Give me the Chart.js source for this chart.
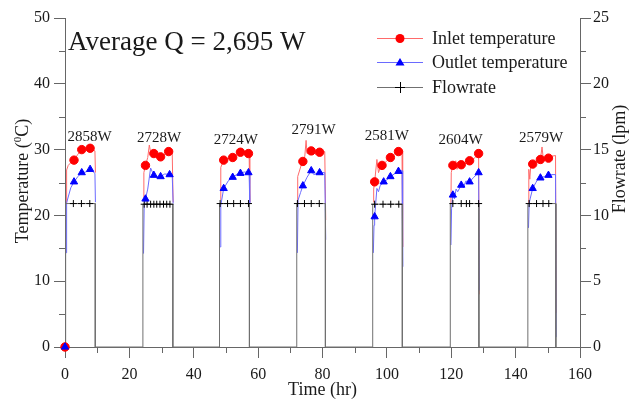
<!DOCTYPE html>
<html>
<head>
<meta charset="utf-8">
<script src="https://cdn.jsdelivr.net/npm/chart.js@4.4.0/dist/chart.umd.min.js"></script>
<style>
  html, body { margin: 0; padding: 0; background: #fff; }
  canvas { display: block; }
</style>
</head>
<body>
<canvas id="chart" width="634" height="401"></canvas>
<script>
const SERIF = "'Liberation Serif', 'Times New Roman', serif";
Chart.defaults.font.family = SERIF;

// Flow on/off times (hr) for the 7 test days and the flat flow level (lpm)
const flowOn = [0.2, 24.2, 48.0, 72.0, 95.6, 119.7, 143.8];
const flowOff = [9.4, 33.5, 57.3, 80.9, 104.8, 128.6, 152.5];
const flowLevel = [10.9, 10.85, 10.9, 10.9, 10.85, 10.9, 10.9];
const flowMarkTime = [
    [2.6, 5.1, 7.7],
    [24.6, 25.5, 26.6, 27.6, 28.5, 29.5, 30.6, 31.6, 32.6],
    [48.2, 50.5, 52.4, 54.5, 57.0],
    [72.2, 74.4, 76.5, 79.0],
    [96.2, 98.8, 101.2, 103.7],
    [120.5, 123.1, 124.7, 125.7, 128.5],
    [144.2, 146.5, 148.5, 150.3]
];

// Inlet temperature (°C), one polyline per day
const inletTime = [
    [0.4, 0.5, 1.0, 1.8, 2.8, 4.0, 5.2, 6.5, 7.8, 9.3, 9.45],
    [24.4, 24.5, 25.0, 25.7, 26.2, 26.6, 27.6, 28.6, 29.7, 31.0, 32.2, 33.3, 33.6],
    [48.2, 48.4, 49.3, 50.5, 52.1, 53.3, 54.5, 55.7, 57.0, 57.2, 57.4],
    [72.2, 72.3, 73.3, 73.9, 74.5, 74.9, 75.2, 76.5, 77.8, 79.1, 80.7, 81.0],
    [95.8, 95.9, 96.2, 96.9, 97.4, 97.9, 98.5, 99.8, 101.1, 102.3, 103.6, 104.7, 104.9],
    [119.9, 120.0, 120.5, 121.0, 121.4, 121.8, 122.3, 123.1, 124.0, 124.6, 125.7, 127.0, 128.5, 128.7],
    [144.0, 144.1, 144.4, 144.7, 145.3, 146.3, 147.7, 148.2, 148.6, 149.2, 150.2, 151.3, 152.4, 152.6]
];
const inletTemp = [
    [21.9, 26.9, 27.6, 28.0, 28.4, 29.3, 30.0, 30.0, 30.2, 29.8, 26.5],
    [22.8, 26.5, 27.6, 28.8, 30.7, 29.6, 29.4, 29.0, 28.9, 29.3, 29.7, 29.8, 22.0],
    [22.4, 27.3, 28.4, 28.6, 28.8, 29.3, 29.6, 29.7, 29.4, 29.5, 22.0],
    [21.9, 25.9, 27.5, 28.2, 29.0, 31.4, 29.4, 29.8, 29.3, 29.6, 29.7, 19.3],
    [22.0, 24.0, 25.1, 28.5, 26.5, 27.2, 27.6, 28.2, 28.8, 29.3, 29.7, 29.8, 15.2],
    [21.9, 26.5, 27.6, 27.2, 28.3, 27.0, 28.0, 27.7, 28.1, 27.8, 28.3, 28.6, 29.4, 8.0],
    [21.9, 27.0, 25.5, 27.5, 27.8, 28.1, 28.5, 30.4, 28.6, 28.8, 28.7, 29.0, 29.1, 5.2]
];
const inletMarkTime = [0, 2.8, 5.2, 7.8, 25.0, 27.6, 29.7, 32.2, 49.3, 52.1, 54.5, 57.0,
    73.9, 76.5, 79.1, 96.2, 98.5, 101.1, 103.6, 120.5, 123.1, 125.7, 128.5, 145.3, 147.7, 150.2];
const inletMarkTemp = [0, 28.4, 30.0, 30.2, 27.6, 29.4, 28.9, 29.7, 28.4, 28.8, 29.6, 29.4,
    28.2, 29.8, 29.6, 25.1, 27.6, 28.8, 29.7, 27.6, 27.7, 28.3, 29.4, 27.8, 28.5, 28.7];

// Outlet temperature (°C)
const outletTime = [
    [0.4, 0.5, 1.0, 1.8, 2.8, 4.0, 5.2, 6.5, 7.8, 9.3, 9.45],
    [24.4, 24.6, 25.0, 25.7, 26.6, 27.6, 28.6, 29.7, 31.0, 32.5, 33.3, 33.6],
    [48.2, 48.4, 49.3, 50.8, 52.1, 53.3, 54.5, 55.7, 57.0, 57.2, 57.4],
    [72.2, 72.4, 73.2, 73.9, 75.2, 76.5, 77.3, 78.2, 79.1, 80.7, 81.0],
    [95.8, 96.0, 96.2, 96.9, 97.4, 97.9, 99.0, 100.0, 101.1, 102.3, 103.6, 104.7, 104.9],
    [119.9, 120.1, 120.5, 121.0, 121.5, 122.0, 123.1, 123.8, 124.5, 125.7, 127.0, 128.5, 128.7],
    [144.0, 144.2, 144.5, 145.3, 146.3, 147.2, 147.7, 149.0, 150.2, 151.3, 152.4, 152.6]
];
const outletTemp = [
    [14.3, 21.9, 22.8, 24.2, 25.1, 25.9, 26.5, 26.6, 27.0, 26.4, 22.0],
    [14.2, 21.5, 22.5, 24.0, 27.2, 26.1, 25.8, 25.9, 26.3, 26.2, 26.3, 21.8],
    [15.2, 21.5, 24.1, 25.3, 25.8, 26.2, 26.4, 26.6, 26.5, 26.5, 21.8],
    [14.3, 22.3, 23.5, 24.5, 25.8, 26.8, 26.2, 26.4, 26.5, 26.5, 16.3],
    [14.3, 18.5, 19.8, 24.1, 23.6, 24.5, 25.1, 25.4, 25.9, 26.3, 26.7, 26.8, 12.2],
    [15.5, 21.0, 23.1, 22.5, 24.0, 23.6, 24.6, 24.2, 25.2, 25.1, 25.8, 26.5, 8.6],
    [18.1, 21.8, 22.5, 24.1, 25.0, 25.8, 25.7, 25.9, 26.1, 26.2, 26.2, 1.5]
];
const outletMarkTime = [0, 2.8, 5.2, 7.8, 25.0, 27.6, 29.7, 32.5, 49.3, 52.1, 54.5, 57.0,
    73.9, 76.5, 79.1, 96.2, 99.0, 101.1, 103.6, 120.5, 123.1, 125.7, 128.5, 145.3, 147.7, 150.2];
const outletMarkTemp = [0, 25.1, 26.5, 27.0, 22.5, 26.1, 25.9, 26.2, 24.1, 25.8, 26.4, 26.5,
    24.5, 26.8, 26.5, 19.8, 25.1, 25.9, 26.7, 23.1, 24.6, 25.1, 26.5, 24.1, 25.7, 26.1];

// Daily heat rate labels, anchored at (time, temperature)
const powerText = ['2858W', '2728W', '2724W', '2791W', '2581W', '2604W', '2579W'];
const powerAtTime = [7.6, 29.2, 53.1, 77.2, 100.0, 122.9, 147.9];
const powerAtTemp = [31.9, 31.7, 31.5, 33.0, 32.0, 31.5, 31.7];
const averageText = 'Average Q = 2,695 W';

const INLET_LINE = '#ff6a6a', INLET_MARK = '#ff0000';
const OUTLET_LINE = '#6a6aff', OUTLET_MARK = '#0000ff';
const FLOW_LINE = '#707070', FLOW_MARK = '#000000';
const AXIS = '#666666', TEXT = '#1a1a1a';

const polyline = (times, vals) => {
    const pts = [];
    times.forEach((ts, i) => {
        ts.forEach((t, j) => pts.push({ x: t, y: vals[i][j] }));
        pts.push({ x: ts[ts.length - 1] + 0.2, y: null });
    });
    return pts;
};
const points = (times, vals) => times.map((t, i) => ({ x: t, y: vals[i] }));

const flowData = [{ x: 0, y: 0 }];
flowOn.forEach((on, i) => {
    flowData.push({ x: on, y: 0 }, { x: on, y: flowLevel[i] });
    flowMarkTime[i].forEach(t => flowData.push({ x: t, y: flowLevel[i], mark: true }));
    flowData.push({ x: flowOff[i], y: flowLevel[i] }, { x: flowOff[i], y: 0 });
});

// minor ticks, titles, labels and legend drawn over the chart
const decorations = {
    id: 'decorations',
    afterDraw(chart) {
        const ctx = chart.ctx;
        const a = chart.chartArea;
        const { x, y, y1 } = chart.scales;
        ctx.save();

        ctx.strokeStyle = AXIS;
        ctx.lineWidth = 1;
        ctx.beginPath();
        for (let v = 10; v < 160; v += 20) {
            const px = Math.round(x.getPixelForValue(v)) + 0.5;
            ctx.moveTo(px, a.bottom); ctx.lineTo(px, a.bottom + 6);
        }
        for (let v = 5; v < 50; v += 10) {
            const py = Math.round(y.getPixelForValue(v)) + 0.5;
            ctx.moveTo(a.left - 6, py); ctx.lineTo(a.left, py);
        }
        for (let v = 2.5; v < 25; v += 5) {
            const py = Math.round(y1.getPixelForValue(v)) + 0.5;
            ctx.moveTo(a.right, py); ctx.lineTo(a.right + 6, py);
        }
        ctx.stroke();

        ctx.fillStyle = TEXT;
        ctx.textBaseline = 'middle';

        // axis titles
        ctx.font = `18px ${SERIF}`;
        ctx.textAlign = 'center';
        ctx.fillText('Time (hr)', (a.left + a.right) / 2, 390);

        ctx.save();
        ctx.translate(23, 181);
        ctx.rotate(-Math.PI / 2);
        ctx.textAlign = 'left';
        const p1 = 'Temperature (', p3 = 'C)';
        const w1 = ctx.measureText(p1).width, w3 = ctx.measureText(p3).width;
        ctx.font = `11px ${SERIF}`;
        const w2 = ctx.measureText('0').width;
        const x0 = -(w1 + w2 + w3) / 2;
        ctx.fillText('0', x0 + w1, -5);
        ctx.font = `18px ${SERIF}`;
        ctx.fillText(p1, x0, 0);
        ctx.fillText(p3, x0 + w1 + w2, 0);
        ctx.restore();

        ctx.save();
        ctx.translate(620, 159);
        ctx.rotate(-Math.PI / 2);
        ctx.textAlign = 'center';
        ctx.fillText('Flowrate (lpm)', 0, 0);
        ctx.restore();

        // average heat rate
        ctx.textAlign = 'left';
        ctx.textBaseline = 'alphabetic';
        ctx.font = `27px ${SERIF}`;
        ctx.fillText(averageText, 68, 50);

        // daily labels
        ctx.textAlign = 'center';
        ctx.textBaseline = 'middle';
        ctx.font = `15px ${SERIF}`;
        powerText.forEach((s, i) => {
            ctx.fillText(s, x.getPixelForValue(powerAtTime[i]), y.getPixelForValue(powerAtTemp[i]));
        });

        // legend
        const rows = [
            { label: 'Inlet temperature', line: INLET_LINE, mark: 'circle', color: INLET_MARK, y: 38 },
            { label: 'Outlet temperature', line: OUTLET_LINE, mark: 'triangle', color: OUTLET_MARK, y: 62 },
            { label: 'Flowrate', line: FLOW_LINE, mark: 'cross', color: FLOW_MARK, y: 87 }
        ];
        ctx.font = `18px ${SERIF}`;
        ctx.textAlign = 'left';
        rows.forEach(r => {
            ctx.strokeStyle = r.line;
            ctx.lineWidth = 1;
            ctx.beginPath();
            ctx.moveTo(377, r.y + 0.5); ctx.lineTo(423, r.y + 0.5);
            ctx.stroke();
            ctx.fillStyle = r.color;
            ctx.strokeStyle = r.color;
            ctx.beginPath();
            if (r.mark === 'circle') {
                ctx.arc(400, r.y + 0.5, 4.5, 0, Math.PI * 2);
                ctx.fill();
            } else if (r.mark === 'triangle') {
                ctx.moveTo(400, r.y - 4); ctx.lineTo(404.5, r.y + 3.5); ctx.lineTo(395.5, r.y + 3.5);
                ctx.closePath(); ctx.fill();
            } else {
                ctx.moveTo(395, r.y + 0.5); ctx.lineTo(405, r.y + 0.5);
                ctx.moveTo(400.5, r.y - 5); ctx.lineTo(400.5, r.y + 6);
                ctx.stroke();
            }
            ctx.fillStyle = TEXT;
            ctx.fillText(r.label, 432, r.y + 1);
        });

        ctx.restore();
    }
};

const tickFont = { family: SERIF, size: 16 };

new Chart(document.getElementById('chart'), {
    type: 'scatter',
    data: {
        datasets: [
            {
                label: 'Outlet marks', data: points(outletMarkTime, outletMarkTemp), yAxisID: 'y', order: 1,
                showLine: false, pointStyle: 'triangle', pointRadius: 4.2,
                pointBackgroundColor: OUTLET_MARK, pointBorderColor: OUTLET_MARK, pointBorderWidth: 1, clip: false
            },
            {
                label: 'Inlet marks', data: points(inletMarkTime, inletMarkTemp), yAxisID: 'y', order: 2,
                showLine: false, pointStyle: 'circle', pointRadius: 4.2,
                pointBackgroundColor: INLET_MARK, pointBorderColor: INLET_MARK, pointBorderWidth: 1, clip: false
            },
            {
                label: 'Flowrate', data: flowData, yAxisID: 'y1', order: 3,
                showLine: true, borderColor: FLOW_LINE, borderWidth: 1, spanGaps: false,
                pointStyle: 'cross', pointRadius: c => (c.raw && c.raw.mark ? 3.5 : 0),
                pointBorderColor: FLOW_MARK, pointBorderWidth: 1, clip: false
            },
            {
                label: 'Outlet temperature', data: polyline(outletTime, outletTemp), yAxisID: 'y', order: 4,
                showLine: true, borderColor: OUTLET_LINE, borderWidth: 1, pointRadius: 0, spanGaps: false
            },
            {
                label: 'Inlet temperature', data: polyline(inletTime, inletTemp), yAxisID: 'y', order: 5,
                showLine: true, borderColor: INLET_LINE, borderWidth: 1, pointRadius: 0, spanGaps: false
            }
        ]
    },
    options: {
        responsive: false,
        animation: false,
        devicePixelRatio: 1,
        layout: { padding: { top: 18, left: 0, right: 0, bottom: 0 } },
        plugins: { legend: { display: false }, tooltip: { enabled: false } },
        scales: {
            x: {
                type: 'linear', min: 0, max: 160,
                ticks: { stepSize: 20, autoSkip: false, maxRotation: 0, padding: 7, font: tickFont, color: TEXT },
                grid: { drawOnChartArea: false, tickLength: 11, color: AXIS },
                border: { color: AXIS },
                afterFit: s => { s.height = 54; }
            },
            y: {
                position: 'left', min: 0, max: 50,
                ticks: { stepSize: 10, padding: 4, font: tickFont, color: TEXT },
                grid: { drawOnChartArea: false, tickLength: 11, color: AXIS },
                border: { color: AXIS },
                afterFit: s => { s.width = 65; }
            },
            y1: {
                position: 'right', min: 0, max: 25,
                ticks: { stepSize: 5, padding: 2, font: tickFont, color: TEXT },
                grid: { drawOnChartArea: false, tickLength: 11, color: AXIS },
                border: { color: AXIS },
                afterFit: s => { s.width = 54; }
            }
        }
    },
    plugins: [decorations]
});
</script>
</body>
</html>
